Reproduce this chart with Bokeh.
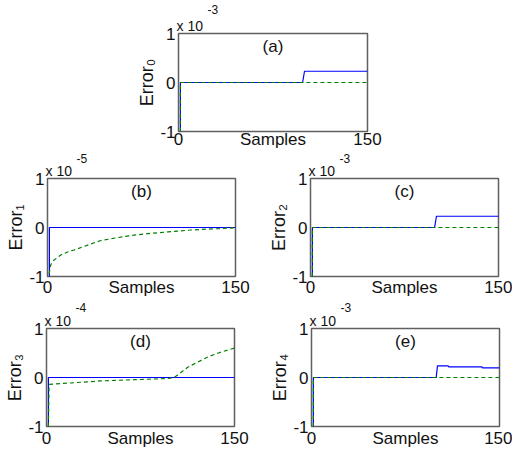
from bokeh.plotting import figure
from bokeh.layouts import column, row
from bokeh.models import Spacer, Label, FixedTicker, Range1d, Title
from bokeh.embed import file_html
from bokeh.resources import INLINE

FONT = "Liberation Sans"

# ---------------- data ----------------
x_start, x_end = 0, 150
y_ticks = [-1, 0, 1]
y_tick_labels = ["-1", "0", "1"]
x_ticks = [0, 150]
x_tick_labels = ["0", "150"]
x_label = "Samples"
panel_tags = ["(a)", "(b)", "(c)", "(d)", "(e)"]
y_labels = ["Error\u2080", "Error\u2081", "Error\u2082", "Error\u2083", "Error\u2084"]
mult_base = "x 10"
exponents = ["-3", "-5", "-3", "-4", "-3"]

# (a) Error_0, x 10^-3
a_blue_x = [1.5, 1.5, 98.5, 100, 150]
a_blue_y = [-1, 0, 0, 0.23, 0.23]
a_green_x = [1.5, 1.5, 150]
a_green_y = [-1, 0, 0]

# (b) Error_1, x 10^-5
b_blue_x = [1.5, 1.5, 150]
b_blue_y = [-1, 0, 0]
b_green_x = [1.3, 2.6, 5, 10.6, 16, 21, 32, 42, 55, 69, 82, 96, 110, 122, 135, 149, 150]
b_green_y = [-0.95, -0.76, -0.67, -0.56, -0.5, -0.46, -0.36, -0.27, -0.21, -0.155, -0.12, -0.09, -0.06, -0.04, -0.025, -0.007, 0]

# (c) Error_2, x 10^-3
c_blue_x = [1.5, 1.5, 99, 100.5, 150]
c_blue_y = [-1, 0, 0, 0.23, 0.23]
c_green_x = [1.5, 1.5, 150]
c_green_y = [-1, 0, 0]

# (d) Error_3, x 10^-4
d_blue_x = [1.5, 1.5, 150]
d_blue_y = [-1, 0, 0]
d_green_x = [1.5, 2.1, 20, 43, 70, 97, 102, 112.7, 128.7, 139.4, 150]
d_green_y = [-1, -0.14, -0.11, -0.07, -0.045, -0.02, 0, 0.21, 0.42, 0.52, 0.6]

# (e) Error_4, x 10^-3
e_blue_x = [1.5, 1.5, 99.5, 100.5, 109, 109.5, 136, 136.5, 150]
e_blue_y = [-1, 0, 0, 0.236, 0.236, 0.216, 0.216, 0.196, 0.196]
e_green_x = [1.5, 1.5, 150]
e_green_y = [-1, 0, 0]

TEXT = "#111111"
TICK_SIZE = "17px"


def make_panel(i, bx, by, gx, gy, width, height, bl, bt, fw, fh, x_standoff,
               exp_standoff=-4, exp_valign="bottom"):
    br = width - bl - fw
    bb = height - bt - fh
    p = figure(width=width, height=height, output_backend="svg", toolbar_location=None,
               x_range=Range1d(x_start, x_end), y_range=Range1d(y_ticks[0], y_ticks[-1]),
               min_border_left=bl, min_border_right=br, min_border_top=bt, min_border_bottom=bb,
               background_fill_color="white", border_fill_color="white")
    p.grid.visible = False

    # y axis
    ya = p.yaxis[0]
    ya.ticker = FixedTicker(ticks=y_ticks)
    ya.major_label_overrides = {float(v): s for v, s in zip(y_ticks, y_tick_labels)}
    ya.axis_label = y_labels[i]
    ya.axis_label_standoff = 0
    ya.axis_label_text_font = FONT
    ya.axis_label_text_font_size = "18px"
    ya.axis_label_text_font_style = "normal"
    ya.axis_label_text_color = TEXT
    ya.major_label_standoff = 3
    ya.major_label_text_font = FONT
    ya.major_label_text_font_size = TICK_SIZE
    ya.major_label_text_color = TEXT

    # x axis: ticks at the ends, the axis name sits on the tick-label line (middle)
    xa = p.xaxis[0]
    mid = (x_start + x_end) / 2
    xa.ticker = FixedTicker(ticks=[x_ticks[0], mid, x_ticks[1]])
    xa.major_label_overrides = {float(x_ticks[0]): x_tick_labels[0], float(mid): x_label,
                                float(x_ticks[1]): x_tick_labels[1]}
    xa.major_label_standoff = x_standoff
    xa.major_label_text_font = FONT
    xa.major_label_text_font_size = TICK_SIZE
    xa.major_label_text_color = TEXT

    for ax in (xa, ya):
        ax.axis_line_color = None
        ax.major_tick_line_color = None
        ax.minor_tick_line_color = None
        ax.major_tick_out = 0
        ax.major_tick_in = 0

    p.outline_line_color = "#606060"
    p.outline_line_width = 1.5

    # multiplier "x 10" with its exponent stacked above
    p.add_layout(Title(text=mult_base, align="left", offset=-2, standoff=0,
                       text_font=FONT, text_font_size="14px", text_font_style="normal",
                       text_color=TEXT), "above")
    p.add_layout(Title(text=exponents[i], align="left", offset=29, standoff=exp_standoff,
                       vertical_align=exp_valign,
                       text_font=FONT, text_font_size="12px", text_font_style="normal",
                       text_color=TEXT), "above")

    p.line(bx, by, line_color="#0000ff", line_width=1.2)
    p.line(gx, gy, line_color="#008000", line_width=1.2, line_dash="4 3")

    p.add_layout(Label(x=mid, y=0.74, text=panel_tags[i], text_align="center",
                       text_baseline="middle", text_font=FONT, text_font_size="17px",
                       text_color=TEXT))
    return p


# rows: 0-151, 151-299, 299-450
pa = make_panel(0, a_blue_x, a_blue_y, a_green_x, a_green_y, 387, 151, 53, 33, 189, 99, -2,
                exp_standoff=0, exp_valign="top")
pb = make_panel(1, b_blue_x, b_blue_y, b_green_x, b_green_y, 256, 148, 47, 27, 188, 99, 1)
pc = make_panel(2, c_blue_x, c_blue_y, c_green_x, c_green_y, 256, 148, 54, 27, 188, 99, 1)
pd = make_panel(3, d_blue_x, d_blue_y, d_green_x, d_green_y, 256, 151, 46, 29, 188, 99, 2,
                exp_standoff=-2)
pe = make_panel(4, e_blue_x, e_blue_y, e_green_x, e_green_y, 256, 151, 55, 29, 188, 99, 2,
                exp_standoff=-2)

layout = column(
    row(Spacer(width=125, height=151), pa, spacing=0),
    row(pb, pc, spacing=0),
    row(pd, pe, spacing=0),
    spacing=0,
)

open("out.html", "w").write(file_html(layout, INLINE))
